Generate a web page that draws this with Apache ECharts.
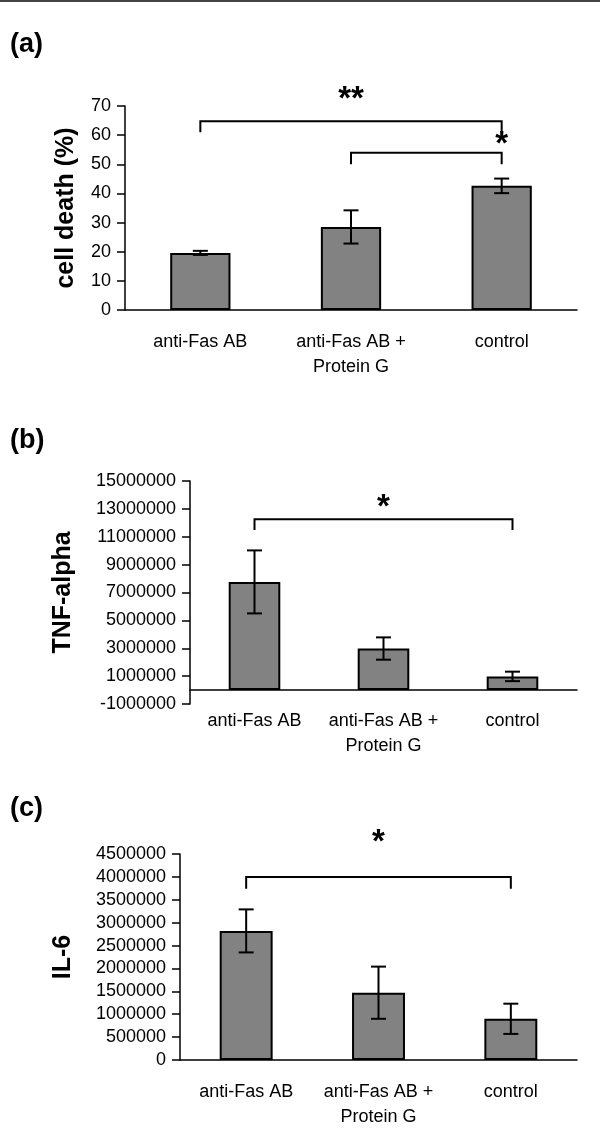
<!DOCTYPE html>
<html>
<head>
<meta charset="utf-8">
<script src="https://cdn.jsdelivr.net/npm/echarts@6/dist/echarts.min.js"></script>
<style>
    html, body { margin: 0; padding: 0; background: #fff; }
    #main { width: 600px; height: 1139px; }
</style>
</head>
<body>
<div id="main"></div>
<script>
// 数据
var categories = ['anti-Fas AB', 'anti-Fas AB +\nProtein G', 'control'];

// (a) cell death (%)
var deathMean = [19.6, 28.5, 42.6];
var deathErr = [0.7, 5.7, 2.5];
// (b) TNF-alpha
var tnfMean = [7760000, 2980000, 980000];
var tnfErr = [2260000, 800000, 340000];
// (c) IL-6
var il6Mean = [2820000, 1470000, 900000];
var il6Err = [470000, 570000, 330000];

// y axis: [min, max, step]
var axisA = [0, 70, 10];
var axisB = [-1000000, 15000000, 2000000];
var axisC = [0, 4500000, 500000];

// brackets: [from, to, line y, left leg end, right leg end, star y, star x, text]
var sigA = [
    [0.05, 2, 64.8, 61, 61, 72.2, 1.02, '**'],
    [1.01, 2, 54, 50, 50, 56.6, 1.53, '*']
];
var sigB = [[0.09, 2.13, 12260000, 11480000, 11480000, 13100000, 1.03, '*']];
var sigC = [[0, 2.11, 4000000, 3740000, 3740000, 4750000, 1.05, '*']];

var FONT = "'Liberation Sans', Arial, sans-serif";

function errData(mean, err) {
    return mean.map(function (m, i) { return [i, m - err[i], m + err[i]]; });
}

function errorItem(params, api) {
    var x = api.value(0);
    var lo = api.coord([x, api.value(1)]);
    var hi = api.coord([x, api.value(2)]);
    var w = 7.5;
    var st = { stroke: '#000', lineWidth: 2 };
    return {
        type: 'group',
        children: [
            { type: 'line', shape: { x1: lo[0], y1: lo[1], x2: hi[0], y2: hi[1] }, style: st },
            { type: 'line', shape: { x1: hi[0] - w, y1: hi[1], x2: hi[0] + w, y2: hi[1] }, style: st },
            { type: 'line', shape: { x1: lo[0] - w, y1: lo[1], x2: lo[0] + w, y2: lo[1] }, style: st }
        ]
    };
}

function bracketItem(list) {
    return function (params, api) {
        var s = list[params.dataIndex];
        var l1 = api.coord([s[0], s[3]]);
        var p1 = api.coord([s[0], s[2]]);
        var p2 = api.coord([s[1], s[2]]);
        var l2 = api.coord([s[1], s[4]]);
        var t = api.coord([s[6], s[5]]);
        return {
            type: 'group',
            children: [
                { type: 'polyline', shape: { points: [l1, p1, p2, l2] },
                  style: { fill: null, stroke: '#000', lineWidth: 2 } },
                { type: 'text', x: t[0], y: t[1],
                  style: { text: s[7], fontSize: 33, fontWeight: 'bold', fontFamily: FONT,
                           align: 'center', verticalAlign: 'middle', fill: '#000' } }
            ]
        };
    };
}

function xAxisOf(idx, margin) {
    return {
        type: 'category', gridIndex: idx, data: categories,
        axisLine: { lineStyle: { color: '#000', width: 1.5 } },
        axisTick: { length: 7, lineStyle: { color: '#000', width: 1.5 } },
        axisLabel: { interval: 0, fontSize: 18, fontFamily: FONT, color: '#000', lineHeight: 25, margin: margin }
    };
}

function yAxisOf(idx, range, name, gap) {
    return {
        type: 'value', gridIndex: idx, min: range[0], max: range[1], interval: range[2],
        name: name, nameLocation: 'middle', nameGap: gap,
        nameTextStyle: { fontSize: 25, fontWeight: 'bold', fontFamily: FONT, color: '#000' },
        axisLine: { show: true, lineStyle: { color: '#000', width: 1.5 } },
        axisTick: { show: true, length: 8, lineStyle: { color: '#000', width: 1.5 } },
        splitLine: { show: false },
        axisLabel: { fontSize: 18, fontFamily: FONT, color: '#000', margin: 14,
                     formatter: function (v) { return String(v); } }
    };
}

function barSeries(idx, data) {
    return {
        type: 'bar', xAxisIndex: idx, yAxisIndex: idx, data: data, barWidth: '40%',
        itemStyle: { color: '#828282', borderColor: '#000', borderWidth: 2 },
        silent: true
    };
}

function errSeries(idx, mean, err) {
    return {
        type: 'custom', xAxisIndex: idx, yAxisIndex: idx, data: errData(mean, err),
        encode: { x: 0, y: [1, 2] }, renderItem: errorItem, z: 5, silent: true
    };
}

function sigSeries(idx, list) {
    return {
        type: 'custom', xAxisIndex: idx, yAxisIndex: idx,
        data: list.map(function (s, i) { return [i, s[2]]; }),
        renderItem: bracketItem(list), z: 6, silent: true
    };
}

function panelLabel(text, top) {
    return {
        type: 'text', left: 10, top: top,
        style: { text: text, fontSize: 27, fontWeight: 'bold', fontFamily: FONT, fill: '#000' }
    };
}

var myChart = echarts.init(document.getElementById('main'));

var option = {
    animation: false,
    backgroundColor: '#fff',
    graphic: [
        { type: 'line', shape: { x1: 0, y1: 1, x2: 600, y2: 1 }, style: { stroke: '#444', lineWidth: 2 } },
        panelLabel('(a)', 31),
        panelLabel('(b)', 427),
        panelLabel('(c)', 795)
    ],
    grid: [
        { left: 125, top: 106, width: 452, height: 204 },
        { left: 190, top: 481, width: 387, height: 223 },
        { left: 180, top: 854, width: 397, height: 206 }
    ],
    xAxis: [xAxisOf(0, 20), xAxisOf(1, 5), xAxisOf(2, 20)],
    yAxis: [
        yAxisOf(0, axisA, 'cell death (%)', 46),
        yAxisOf(1, axisB, 'TNF-alpha', 114),
        yAxisOf(2, axisC, 'IL-6', 104)
    ],
    series: [
        barSeries(0, deathMean), errSeries(0, deathMean, deathErr), sigSeries(0, sigA),
        barSeries(1, tnfMean), errSeries(1, tnfMean, tnfErr), sigSeries(1, sigB),
        barSeries(2, il6Mean), errSeries(2, il6Mean, il6Err), sigSeries(2, sigC)
    ]
};

myChart.setOption(option);
</script>
</body>
</html>
